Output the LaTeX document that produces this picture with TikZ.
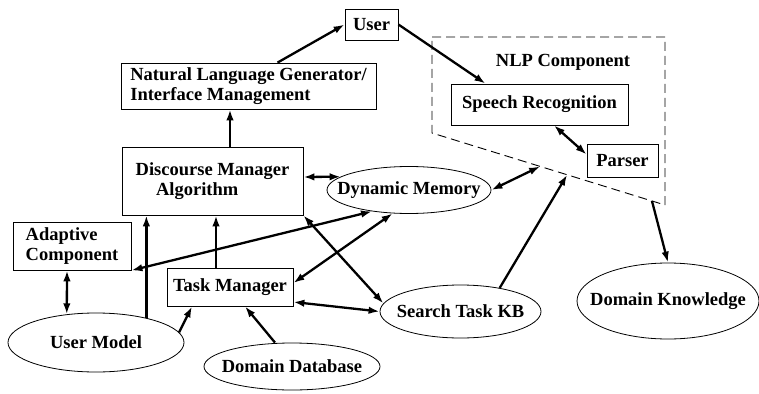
\documentclass[tikz,border=0pt]{standalone}
\usepackage{fontspec}
\setmainfont{Liberation Serif}
\usetikzlibrary{arrows.meta, positioning, shapes.geometric, calc}

\begin{document}
\begin{tikzpicture}[x=1pt, y=-1pt,
    box/.style={rectangle, draw, line width=0.8pt, inner sep=0pt, align=left,
                font=\fontsize{18.5}{19.5}\selectfont\bfseries},
    oval/.style={ellipse, draw, line width=0.8pt, inner xsep=-40pt, inner ysep=0pt,
                 font=\fontsize{18.5}{19.5}\selectfont\bfseries},
    arrow/.style={-{Latex[length=11pt, width=7.5pt]}, line width=2.3pt},
    biarrow/.style={{Latex[length=11pt, width=7.5pt]}-{Latex[length=11pt, width=7.5pt]}, line width=2.3pt},
    nlpline/.style={line width=0.9pt, dash pattern=on 9pt off 5pt}
]
    \useasboundingbox (0,0) rectangle (759,393);

    \node[box, minimum width=53pt, minimum height=31pt] (user) at (371.5,24.5) {User};
    \node[box, minimum width=255pt, minimum height=46pt] (nlg) at (248.5,86) {Natural Language Generator/\\Interface Management};
    \node[box, minimum width=181pt, minimum height=68pt] (dm) at (212.5,181) {Discourse Manager\\\hspace*{1.1em}Algorithm};
    \node[box, minimum width=118pt, minimum height=48pt] (adapt) at (72,246) {Adaptive\\Component};
    \node[box, minimum width=126pt, minimum height=38pt] (tm) at (230,287) {Task Manager};
    \node[box, minimum width=177pt, minimum height=41pt] (sr) at (539.5,104.5) {Speech Recognition};
    \node[box, minimum width=71pt, minimum height=33pt] (parser) at (622.5,160.5) {Parser};
    \node[font=\fontsize{18.5}{19.5}\selectfont\bfseries] (nlplabel) at (563,62) {NLP Component};

    \node[oval, minimum width=164pt, minimum height=47pt] (dynmem) at (409,190) {Dynamic Memory};
    \node[oval, minimum width=161pt, minimum height=53pt] (search) at (460.5,311.5) {Search Task KB};
    \node[oval, minimum width=182pt, minimum height=76pt] (dk) at (668,301) {Domain Knowledge};
    \node[oval, minimum width=176pt, minimum height=59pt] (umodel) at (96,342.5) {User Model};
    \node[oval, minimum width=176pt, minimum height=47pt] (dd) at (292,366.5) {Domain Database};

    \coordinate (nlpA) at (432,37);
    \coordinate (nlpB) at (665,37);
    \coordinate (nlpC) at (665,205);
    \coordinate (nlpD) at (432,133);
    \draw[nlpline] (nlpA) -- (nlpB) -- (nlpC) -- (nlpD) -- cycle;
    \coordinate (memport) at ($(nlpD)!0.464!(nlpC)$);
    \coordinate (kbport) at ($(nlpD)!0.58!(nlpC)$);
    \coordinate (dkport) at ($(nlpD)!0.944!(nlpC)$);

    \draw[arrow] ([xshift=29pt]nlg.north) -- (user.west);
    \draw[arrow] (user.east) -- ([xshift=-54pt]sr.north);
    \draw[biarrow] ([xshift=14.5pt]sr.south) -- ([yshift=6pt]parser.west);
    \draw[arrow] ([xshift=17.5pt]dm.north) -- ([xshift=-18.5pt]nlg.south);
    \draw[biarrow] ([yshift=4pt]dm.east) -- (dynmem.169);
    \draw[biarrow] (dynmem.east) -- (memport);
    \draw[arrow] (search.31) -- (kbport);
    \draw[arrow] (dkport) -- (dk.north);
    \draw[biarrow] ([xshift=-5pt]adapt.south) -- (umodel.136);
    \draw[arrow] (umodel.26) -- (umodel.26 |- dm.south);
    \draw[arrow] ([xshift=-14pt]tm.north) -- ([xshift=-14pt]tm.north |- dm.south);
    \draw[arrow] (umodel.7) -- ([xshift=-38pt]tm.south);
    \draw[arrow] ([xshift=-17pt]dd.north) -- ([xshift=15pt]tm.south);
    \draw[biarrow] ([yshift=-15pt]tm.east) -- (search.west);
    \draw[biarrow] (dm.south east) -- (search.174);
    \draw[biarrow] (adapt.south east) -- (dynmem.210);
    \draw[biarrow] ([yshift=4pt]tm.east) -- (dynmem.235);
\end{tikzpicture}
\end{document}
